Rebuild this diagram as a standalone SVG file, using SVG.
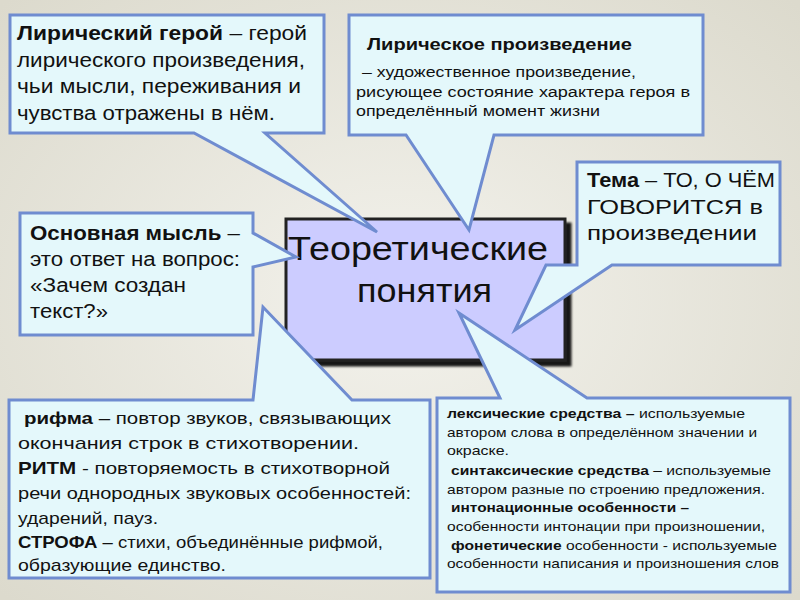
<svg xmlns="http://www.w3.org/2000/svg" width="800" height="600" viewBox="0 0 800 600">
<defs>
<radialGradient id="bg" cx="50%" cy="50%" r="70%"><stop offset="0" stop-color="#f3f2ec"/><stop offset="1" stop-color="#dcdacd"/></radialGradient>
<filter id="sh" x="-10%" y="-10%" width="130%" height="130%"><feDropShadow dx="5" dy="5" stdDeviation="1" flood-color="#000" flood-opacity="0.9"/></filter>
</defs>
<style>
.c{fill:#e4f8fb;stroke:#6f8cd0;stroke-width:3;stroke-linejoin:miter}
text{font-family:"Liberation Sans",Arial,sans-serif;fill:#111}
.n{font-size:20px}
.b{font-weight:bold}
.m{font-size:17px}
.s{font-size:13px}
</style>
<rect width="800" height="600" fill="url(#bg)"/>
<g id="center">
<rect x="286" y="219" width="279" height="141" fill="#ccccff" stroke="#222" stroke-width="3" filter="url(#sh)"/>
<text x="288" y="260" font-size="34" textLength="260" lengthAdjust="spacingAndGlyphs">Теоретические</text>
<text x="357" y="302" font-size="34" textLength="135" lengthAdjust="spacingAndGlyphs">понятия</text>
</g>
<g id="hero">
<path class="c" d="M10,15 H324 V133 H265 L377,232 L194,133 H10 Z"/>
<text class="n" x="17" y="40" textLength="290" lengthAdjust="spacingAndGlyphs"><tspan class="b">Лирический герой</tspan> – герой</text>
<text class="n" x="17" y="67" textLength="288" lengthAdjust="spacingAndGlyphs">лирического произведения,</text>
<text class="n" x="17" y="93" textLength="284" lengthAdjust="spacingAndGlyphs"> чьи мысли, переживания и</text>
<text class="n" x="17" y="120" textLength="258" lengthAdjust="spacingAndGlyphs">чувства отражены в нём.</text>
</g>
<g id="work">
<path class="c" d="M349,15 H703 V135 H494 L469,230 L406,135 H349 Z"/>
<text x="367" y="50" font-size="16" class="b" textLength="265" lengthAdjust="spacingAndGlyphs">Лирическое произведение</text>
<text x="362" y="77" font-size="14" textLength="274" lengthAdjust="spacingAndGlyphs"> – художественное произведение,</text>
<text x="356" y="97" font-size="14" textLength="334" lengthAdjust="spacingAndGlyphs">рисующее состояние характера героя  в</text>
<text x="356" y="116" font-size="14" textLength="244" lengthAdjust="spacingAndGlyphs">определённый момент жизни</text>
</g>
<g id="theme">
<path class="c" d="M577,162 H780 V265 H612 L515,330 L546,265 H577 Z"/>
<text class="n" x="587" y="187" textLength="188" lengthAdjust="spacingAndGlyphs"><tspan class="b">Тема</tspan> – ТО, О ЧЁМ</text>
<text class="n" x="587" y="214" textLength="176" lengthAdjust="spacingAndGlyphs">ГОВОРИТСЯ в</text>
<text class="n" x="587" y="240" textLength="170" lengthAdjust="spacingAndGlyphs">произведении</text>
</g>
<g id="idea">
<path class="c" d="M20,213 H253 V233 L296,257 L253,267 V335 H20 Z"/>
<text class="n" x="30" y="240" textLength="210" lengthAdjust="spacingAndGlyphs"><tspan class="b">Основная мысль</tspan> –</text>
<text class="n" x="30" y="266" textLength="210" lengthAdjust="spacingAndGlyphs">это ответ на вопрос:</text>
<text class="n" x="30" y="292" textLength="156" lengthAdjust="spacingAndGlyphs">«Зачем создан</text>
<text class="n" x="30" y="318" textLength="78" lengthAdjust="spacingAndGlyphs">текст?»</text>
</g>
<g id="rhyme">
<path class="c" d="M9,400 H253 L263,307 L352,400 H430 V578 H9 Z"/>
<text class="m" x="24" y="424" textLength="367" lengthAdjust="spacingAndGlyphs"><tspan class="b">рифма</tspan> – повтор звуков, связывающих</text>
<text class="m" x="18" y="449" textLength="341" lengthAdjust="spacingAndGlyphs">окончания строк в стихотворении.</text>
<text class="m" x="18" y="474" textLength="372" lengthAdjust="spacingAndGlyphs"><tspan class="b">РИТМ</tspan> -   повторяемость в стихотворной</text>
<text class="m" x="18" y="499" textLength="393" lengthAdjust="spacingAndGlyphs">речи однородных звуковых особенностей:</text>
<text class="m" x="18" y="524" textLength="140" lengthAdjust="spacingAndGlyphs">ударений, пауз.</text>
<text class="m" x="18" y="548" textLength="365" lengthAdjust="spacingAndGlyphs"><tspan class="b">СТРОФА</tspan> – стихи, объединённые рифмой,</text>
<text class="m" x="18" y="571" textLength="208" lengthAdjust="spacingAndGlyphs">образующие единство.</text>
</g>
<g id="means">
<path class="c" d="M437,398 H500 L459,313 L587,398 H790 V592 H437 Z"/>
<text class="s" x="447" y="418" textLength="298" lengthAdjust="spacingAndGlyphs"><tspan class="b">лексические средства – </tspan> используемые</text>
<text class="s" x="447" y="437" textLength="310" lengthAdjust="spacingAndGlyphs">автором слова в определённом значении и</text>
<text class="s" x="447" y="455" textLength="62" lengthAdjust="spacingAndGlyphs">окраске.</text>
<text class="s" x="451" y="475" textLength="320" lengthAdjust="spacingAndGlyphs"><tspan class="b">синтаксические средства</tspan> – используемые</text>
<text class="s" x="447" y="494" textLength="318" lengthAdjust="spacingAndGlyphs">автором разные по строению предложения.</text>
<text class="s b" x="451" y="512" textLength="238" lengthAdjust="spacingAndGlyphs">интонационные особенности –</text>
<text class="s" x="447" y="531" textLength="318" lengthAdjust="spacingAndGlyphs">особенности интонации при произношении,</text>
<text class="s" x="451" y="550" textLength="326" lengthAdjust="spacingAndGlyphs"><tspan class="b">фонетические</tspan> особенности  - используемые</text>
<text class="s" x="447" y="568" textLength="332" lengthAdjust="spacingAndGlyphs">особенности написания и произношения слов</text>
</g>
</svg>
